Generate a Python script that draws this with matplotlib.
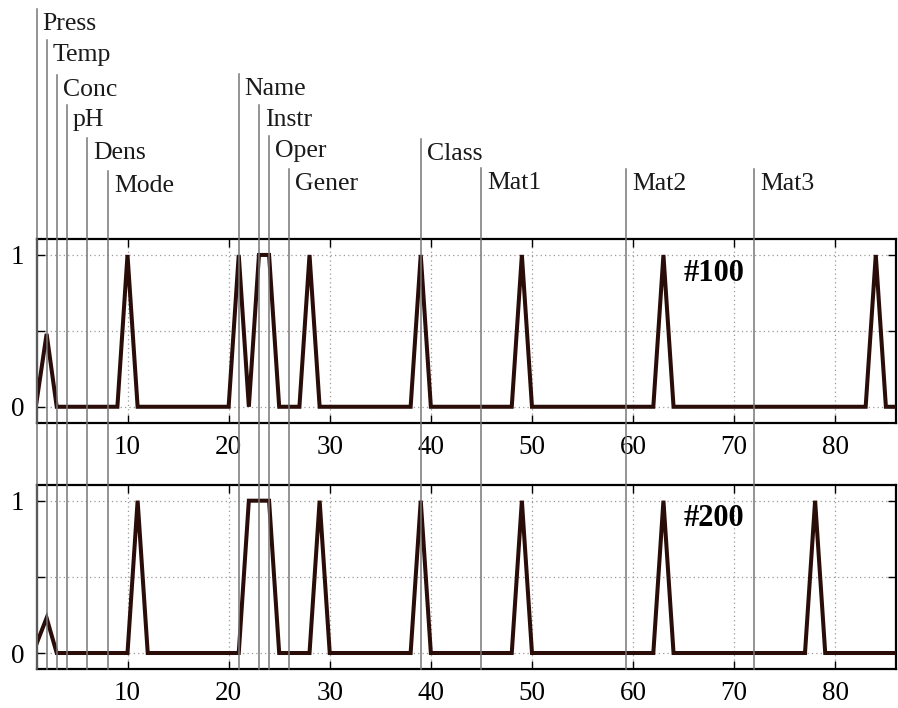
import numpy as np
import matplotlib
matplotlib.use('Agg')
import matplotlib.pyplot as plt
from matplotlib import transforms
from matplotlib.lines import Line2D

plt.rcParams['font.family'] = ['Liberation Serif', 'DejaVu Serif']

# descriptor positions along the index axis
names = ['Press', 'Temp', 'Conc', 'pH', 'Dens', 'Mode',
         'Name', 'Instr', 'Oper', 'Gener',
         'Class', 'Mat1', 'Mat2', 'Mat3']
name_pos = [1, 2, 3, 4, 6, 8.1, 21, 23, 24, 26, 39, 45, 59.3, 72]

# sample profiles: index -> value (everything else is 0)
idx = list(range(1, 87))
s100_nonzero = {1: 0.03, 2: 0.48, 10: 1, 21: 1, 23: 1, 24: 1, 28: 1,
                39: 1, 49: 1, 63: 1, 84: 1}
s200_nonzero = {1: 0.06, 2: 0.23, 11: 1, 22: 1, 23: 1, 24: 1, 29: 1,
                39: 1, 49: 1, 63: 1, 78: 1}
panel_titles = ['#100', '#200']

s100 = [s100_nonzero.get(i, 0) for i in idx]
s200 = [s200_nonzero.get(i, 0) for i in idx]

W, H = 898, 708
fig = plt.figure(figsize=(W / 100, H / 100), dpi=100)

def px_box(left, top, right, bottom):
    return [left / W, 1 - bottom / H, (right - left) / W, (bottom - top) / H]

ax1 = fig.add_axes(px_box(36.5, 239, 896, 422.7))
ax2 = fig.add_axes(px_box(36.5, 484.7, 896, 669))

line_col = '#2a0c08'
for ax, s, title in zip([ax1, ax2], [s100, s200], panel_titles):
    ax.plot(idx, s, color=line_col, lw=2.9, solid_joinstyle='miter', zorder=3)
    ax.set_xlim(1, 86)
    ax.set_ylim(-0.105, 1.105)
    ax.set_xticks([10, 20, 30, 40, 50, 60, 70, 80])
    ax.set_yticks([0, 0.5, 1])
    ax.set_yticklabels(['0', '', '1'])
    ax.tick_params(axis='x', labelsize=19.5, direction='in', top=True,
                   length=6, width=1, pad=9)
    ax.tick_params(axis='y', labelsize=19.5, direction='in', right=True,
                   length=6, width=1, pad=9)
    ax.grid(True, linestyle=(0, (1, 2.5)), color='#9a9a9a', lw=0.9)
    for sp in ax.spines.values():
        sp.set_linewidth(1.6)
    ax.text(68, 0.88, title, fontsize=22, fontweight='bold',
            ha='center', va='center', zorder=4)

# descriptor markers run from the top labels down through both panels
line_tops = [9, 40, 75, 105, 138, 171, 74, 105, 136, 169, 139, 168, 169, 169]
trans = transforms.blended_transform_factory(ax2.transData, fig.transFigure)
label_trans = transforms.offset_copy(trans, fig=fig, x=6, y=0, units='dots')
y_bottom = 1 - 669 / H
for name, xp, top in zip(names, name_pos, line_tops):
    y_top = 1 - top / H
    fig.add_artist(Line2D([xp, xp], [y_bottom, y_top], transform=trans,
                          color='#777777', lw=1.1, zorder=5))
    fig.text(xp, 1 - (top + 21) / H, name, transform=label_trans,
             fontsize=18.5, ha='left', va='baseline', color='#1a1a1a')

fig.savefig('out.png', dpi=100)
